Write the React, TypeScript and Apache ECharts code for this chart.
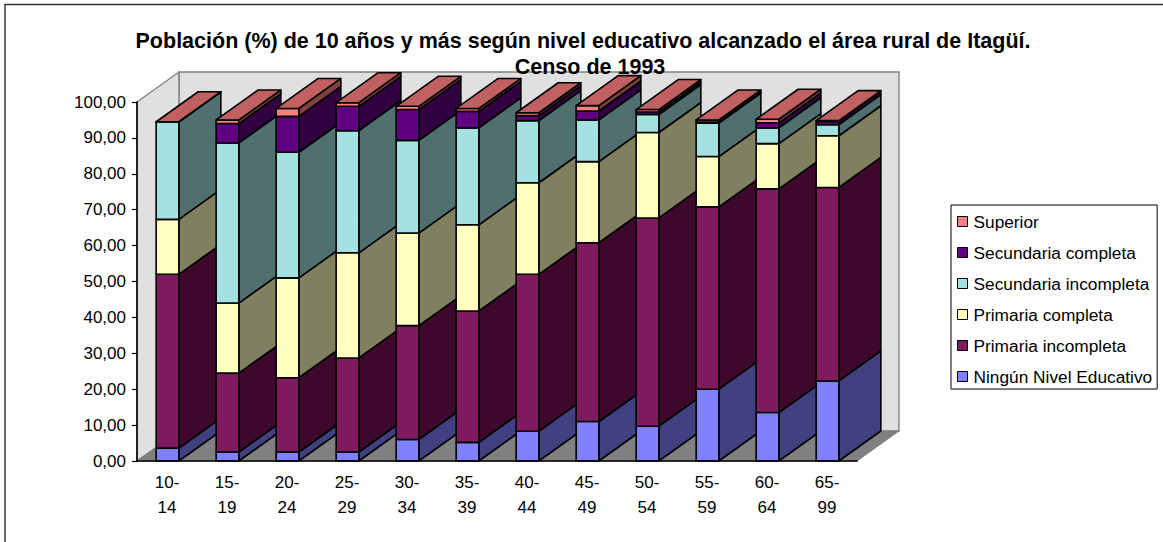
import React, { useEffect, useRef } from "react";
import * as echarts from "echarts";

const categories = ["10-\n14", "15-\n19", "20-\n24", "25-\n29", "30-\n34", "35-\n39", "40-\n44", "45-\n49", "50-\n54", "55-\n59", "60-\n64", "65-\n99"];

// thickness of each level (%), read as cumulative boundaries from the picture
const ningun = [3.6, 2.5, 2.5, 2.5, 6.0, 5.2, 8.3, 11.0, 9.7, 20.0, 13.5, 22.3];
const primInc = [48.4, 22.0, 20.7, 26.2, 31.7, 36.6, 43.7, 49.8, 58.0, 50.8, 62.3, 53.9];
const primCom = [15.3, 19.5, 27.8, 29.3, 25.8, 24.0, 25.5, 22.6, 23.8, 14.0, 12.6, 14.4];
const secInc = [27.2, 44.6, 35.0, 34.0, 25.8, 27.0, 17.3, 11.6, 5.0, 9.3, 4.4, 3.1];
const secCom = [0.0, 5.4, 10.0, 6.8, 8.6, 4.6, 1.4, 2.5, 0.7, 0.3, 1.4, 0.9];
const superior = [0.0, 1.0, 2.2, 1.0, 0.9, 0.8, 0.8, 1.5, 0.7, 0.6, 1.0, 0.2];

const levels = [
  { name: "Ningún Nivel Educativo", values: ningun, front: "#8080ff", side: "#404080" },
  { name: "Primaria incompleta", values: primInc, front: "#801a60", side: "#3e082c" },
  { name: "Primaria completa", values: primCom, front: "#ffffc0", side: "#808060" },
  { name: "Secundaria incompleta", values: secInc, front: "#a4e2e2", side: "#507070" },
  { name: "Secundaria completa", values: secCom, front: "#600080", side: "#300040" },
  { name: "Superior", values: superior, front: "#ff8080", side: "#804040" },
];
const topColor = "#c06060";
const titleLines = [
  "Población (%) de 10 años y más según nivel educativo alcanzado el área rural de Itagüí.",
  "Censo de 1993",
];
const yTicks = { min: 0, max: 100, step: 10 };

const DX = 42;
const DY = -30;
const FONT = "'Liberation Sans', Arial, sans-serif";

function App() {
  const ref = useRef<HTMLDivElement>(null);
  useEffect(() => {
    document.body.style.margin = "0";
    const chart = echarts.init(ref.current!, undefined, { renderer: "svg" });
    const edge = { stroke: "#000", lineWidth: 1.6, lineJoin: "round" };

    const series: any[] = [
      {
        type: "custom",
        name: "walls",
        z: 1,
        silent: true,
        data: [[0, 0]],
        encode: { x: 0, y: 1 },
        renderItem: (params: any) => {
          const c = params.coordSys;
          const l = c.x, r = c.x + c.width, t = c.y, b = c.y + c.height;
          const wall = { fill: "#e0e0e0", stroke: "#808080", lineWidth: 1.4 };
          const floor = { fill: "#808080", stroke: "#808080", lineWidth: 1 };
          return {
            type: "group",
            children: [
              { type: "polygon", shape: { points: [[l + DX, t + DY], [r + DX, t + DY], [r + DX, b + DY], [l + DX, b + DY]] }, style: wall },
              { type: "polygon", shape: { points: [[l, t], [l + DX, t + DY], [l + DX, b + DY], [l, b]] }, style: wall },
              { type: "polygon", shape: { points: [[l, b], [l + DX, b + DY], [r + DX, b + DY], [r, b]] }, style: floor },
            ],
          };
        },
      },
    ];

    levels.forEach((lv, li) => {
      const rows = categories.map((_, i) => {
        let base = 0;
        for (let k = 0; k < li; k++) base += levels[k].values[i];
        return [i, base, base + lv.values[i]];
      });
      series.push({
        type: "custom",
        name: lv.name,
        z: 2,
        itemStyle: { color: lv.front, borderColor: "#000", borderWidth: 1 },
        data: rows,
        encode: { x: 0, y: [1, 2] },
        renderItem: (params: any, api: any) => {
          const i = api.value(0);
          const p0 = api.coord([i, api.value(1)]);
          const p1 = api.coord([i, api.value(2)]);
          const w = api.size([1, 0])[0] * 0.378;
          const xl = p0[0] - w / 2 + 0.5;
          const xr = xl + w;
          const yb = p0[1];
          const yt = p1[1];
          const z2 = i * 20 + li * 2;
          const children: any[] = [
            { type: "polygon", z2, shape: { points: [[xr, yb], [xr + DX, yb + DY], [xr + DX, yt + DY], [xr, yt]] }, style: { fill: lv.side, ...edge } },
            { type: "rect", z2: z2 + 1, shape: { x: xl, y: yt, width: w, height: yb - yt }, style: { fill: lv.front, ...edge } },
          ];
          if (li === levels.length - 1) {
            children.push({ type: "polygon", z2: z2 + 1, shape: { points: [[xl, yt], [xr, yt], [xr + DX, yt + DY], [xl + DX, yt + DY]] }, style: { fill: topColor, ...edge } });
          }
          return { type: "group", children };
        },
      });
    });

    chart.setOption({
      animation: false,
      backgroundColor: "#fff",
      textStyle: { fontFamily: FONT },
      title: [
        { text: titleLines[0], left: 578, top: 25, textAlign: "center", textStyle: { fontFamily: FONT, fontSize: 21.5, fontWeight: "bold", color: "#000" } },
        { text: titleLines[1], left: 585, top: 51, textAlign: "center", textStyle: { fontFamily: FONT, fontSize: 21.5, fontWeight: "bold", color: "#000" } },
      ],
      legend: {
        orient: "vertical",
        left: 951,
        top: 205,
        padding: [8, 5, 4, 6],
        itemGap: 14,
        itemWidth: 10,
        itemHeight: 10,
        selectedMode: false,
        backgroundColor: "#fff",
        borderColor: "#000",
        borderWidth: 1,
        icon: "rect",
        itemStyle: { borderColor: "#000", borderWidth: 1 },
        textStyle: { fontFamily: FONT, fontSize: 17.3, color: "#000", padding: [0, 0, 0, 1] },
        data: [...levels].reverse().map((l) => l.name),
      },
      grid: { left: 137, top: 102, width: 720, height: 359 },
      xAxis: {
        type: "category",
        data: categories,
        z: 5,
        axisLine: { lineStyle: { color: "#000", width: 1.6 } },
        axisTick: { length: 5, lineStyle: { color: "#000", width: 1.2 } },
        axisLabel: { color: "#000", fontFamily: FONT, fontSize: 17, lineHeight: 25, margin: 9, interval: 0 },
        splitLine: { show: false },
      },
      yAxis: {
        type: "value",
        min: yTicks.min,
        max: yTicks.max,
        interval: yTicks.step,
        z: 5,
        axisLine: { show: true, lineStyle: { color: "#000", width: 1.6 } },
        axisTick: { show: true, length: 5, lineStyle: { color: "#000", width: 1.2 } },
        axisLabel: { color: "#000", fontFamily: FONT, fontSize: 17, margin: 11, formatter: (v: number) => v.toFixed(2).replace(".", ",") },
        splitLine: { show: false },
      },
      graphic: [
        { type: "polyline", silent: true, z: 0, shape: { points: [[5, 542], [5, 4.5], [1163, 4.5]] }, style: { fill: "none", stroke: "#303030", lineWidth: 1.4 } },
      ],
      series,
    });
    return () => chart.dispose();
  }, []);
  return <div ref={ref} style={{ position: "fixed", left: 0, top: 0, width: 1163, height: 542 }} />;
}

export default App;
